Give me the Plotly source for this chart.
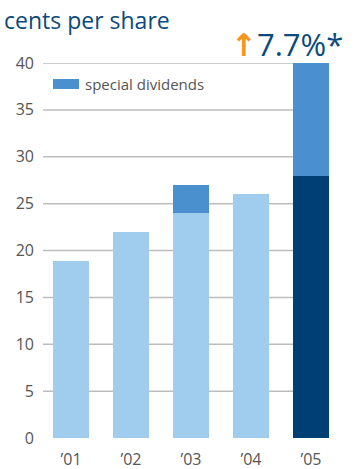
import plotly.graph_objects as go

years = ["’01", "’02", "’03", "’04", "’05"]
ordinary = [18.9, 22, 24, 26, 28]
special = [0, 0, 3, 0, 12]
ordinary_colors = ["#A0CDEE", "#A0CDEE", "#A0CDEE", "#A0CDEE", "#003F73"]
yticks = [0, 5, 10, 15, 20, 25, 30, 35, 40]

fig = go.Figure()
fig.add_bar(x=years, y=ordinary, marker=dict(color=ordinary_colors, line_width=0),
            width=0.6, showlegend=False)
fig.add_bar(x=years, y=special, marker=dict(color="#4A8FCE", line_width=0),
            width=0.6, showlegend=False)

for t in yticks[1:]:
    fig.add_hline(y=t, line=dict(color="#BDBDBD", width=1.5), layer="below")

fig.update_layout(
    barmode="stack",
    width=355, height=469,
    margin=dict(l=43, r=26, t=63, b=31),
    plot_bgcolor="white", paper_bgcolor="white",
    font=dict(family="Open Sans", color="#555555"),
    xaxis=dict(range=[-0.467, 4.3], showgrid=False, showline=False, ticks="",
               ticklabelstandoff=10, automargin=False,
               tickfont=dict(size=16, color="#555555")),
    yaxis=dict(range=[0, 40], tickvals=yticks, showgrid=False, zeroline=False,
               showline=False, ticks="", ticklabelstandoff=8, automargin=False,
               tickfont=dict(size=16, color="#555555")),
)

fig.add_annotation(xref="paper", yref="paper", x=-41/286, xanchor="left",
                   y=1 + 25/375, yanchor="bottom",
                   text="cents per share", showarrow=False,
                   font=dict(size=23, color="#0B4A7B", family="Open Sans"))
fig.add_annotation(xref="paper", yref="paper", x=1 + 16/286, xanchor="right",
                   y=1 - 4/375, yanchor="bottom",
                   text="<span style='color:#F7941D;font-family:DejaVu Sans'><b>↑</b></span>7.7%*",
                   showarrow=False,
                   font=dict(size=31, color="#0B4A7B", family="Open Sans"))
# legend swatch
fig.add_shape(type="rect", xref="paper", yref="paper",
              x0=10/286, x1=36/286, y0=1 - 26/375, y1=1 - 16/375,
              fillcolor="#4A8FCE", line_width=0)
fig.add_annotation(xref="paper", yref="paper", x=40/286, xanchor="left",
                   y=1 - 21/375, yanchor="middle",
                   text="special dividends", showarrow=False,
                   font=dict(size=15, color="#555555", family="Open Sans"))

fig.write_html("out.html")
